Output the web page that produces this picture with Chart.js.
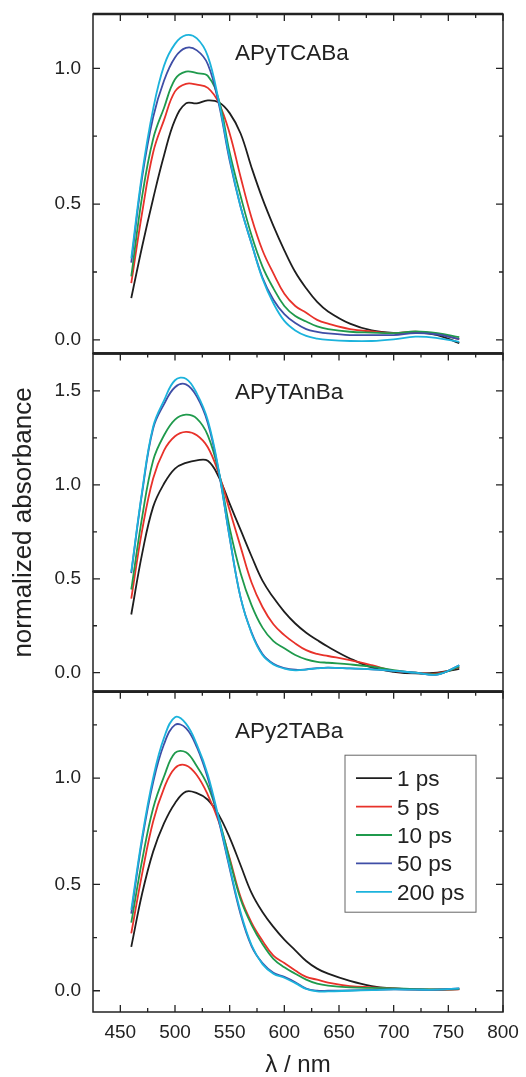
<!DOCTYPE html>
<html>
<head>
<meta charset="utf-8">
<script src="https://cdn.jsdelivr.net/npm/chart.js@4.4.0/dist/chart.umd.min.js"></script>
<style>
  html, body { margin: 0; padding: 0; background: #fff; }
  #wrap { position: relative; width: 526px; height: 1077px; overflow: hidden; }
  canvas { position: absolute; left: 0; }
</style>
</head>
<body>
<div id="wrap">
  <canvas id="c1"></canvas>
  <canvas id="c2"></canvas>
  <canvas id="c3"></canvas>
</div>
<script>
const wavelengths = [460, 470, 480, 490, 500, 510, 520, 530, 540, 550, 560, 570, 580, 590, 600, 610, 620, 630, 640, 660, 680, 700, 720, 740, 760];

const seriesLabels = ['1 ps', '5 ps', '10 ps', '50 ps', '200 ps'];
const seriesColors = ['#1e1e1e', '#e8322a', '#1f9a4c', '#3f4ea6', '#1cb3dc'];

// APyTCABa
const tcaba1ps   = [0.154, 0.345, 0.52, 0.68, 0.81, 0.871, 0.871, 0.882, 0.875, 0.835, 0.76, 0.635, 0.52, 0.42, 0.33, 0.25, 0.19, 0.14, 0.105, 0.06, 0.035, 0.026, 0.027, 0.018, -0.012];
const tcaba5ps   = [0.209, 0.47, 0.69, 0.81, 0.915, 0.943, 0.94, 0.928, 0.873, 0.76, 0.60, 0.45, 0.33, 0.245, 0.17, 0.125, 0.10, 0.074, 0.06, 0.04, 0.031, 0.025, 0.03, 0.022, 0.003];
const tcaba10ps  = [0.234, 0.53, 0.74, 0.855, 0.96, 0.988, 0.982, 0.972, 0.885, 0.69, 0.53, 0.385, 0.27, 0.19, 0.125, 0.088, 0.068, 0.05, 0.04, 0.03, 0.027, 0.025, 0.031, 0.025, 0.01];
const tcaba50ps  = [0.285, 0.60, 0.82, 0.955, 1.04, 1.075, 1.066, 1.015, 0.87, 0.66, 0.49, 0.355, 0.23, 0.148, 0.095, 0.062, 0.04, 0.03, 0.024, 0.018, 0.018, 0.018, 0.025, 0.02, 0.003];
const tcaba200ps = [0.30, 0.615, 0.85, 1.01, 1.09, 1.122, 1.11, 1.045, 0.88, 0.67, 0.49, 0.355, 0.225, 0.135, 0.07, 0.035, 0.015, 0.005, 0.0, -0.004, -0.004, 0.002, 0.012, 0.007, -0.007];

// APyTAnBa
const tanba1ps   = [0.31, 0.635, 0.883, 1.007, 1.087, 1.117, 1.131, 1.128, 1.043, 0.90, 0.76, 0.62, 0.49, 0.40, 0.324, 0.262, 0.213, 0.174, 0.138, 0.076, 0.028, 0.005, -0.004, 0.0, 0.02];
const tanba5ps   = [0.395, 0.76, 1.034, 1.184, 1.259, 1.282, 1.264, 1.2, 1.06, 0.865, 0.67, 0.48, 0.35, 0.258, 0.2, 0.156, 0.12, 0.1, 0.089, 0.067, 0.04, 0.01, 0.0, -0.004, 0.03];
const tanba10ps  = [0.443, 0.83, 1.13, 1.264, 1.347, 1.374, 1.353, 1.264, 1.07, 0.77, 0.53, 0.36, 0.24, 0.168, 0.13, 0.094, 0.071, 0.058, 0.053, 0.044, 0.032, 0.014, 0.0, -0.007, 0.032];
const tanba50ps  = [0.53, 0.96, 1.30, 1.43, 1.52, 1.535, 1.47, 1.33, 1.07, 0.72, 0.40, 0.215, 0.10, 0.048, 0.025, 0.016, 0.018, 0.024, 0.027, 0.023, 0.018, 0.01, 0.0, -0.01, 0.04];
const tanba200ps = [0.537, 0.97, 1.31, 1.45, 1.557, 1.565, 1.486, 1.344, 1.078, 0.72, 0.40, 0.21, 0.094, 0.044, 0.022, 0.013, 0.017, 0.023, 0.027, 0.023, 0.018, 0.01, 0.0, -0.01, 0.04];

// APy2TABa
const tab1ps   = [0.206, 0.458, 0.654, 0.788, 0.882, 0.936, 0.929, 0.898, 0.827, 0.72, 0.59, 0.46, 0.37, 0.30, 0.24, 0.19, 0.14, 0.104, 0.08, 0.046, 0.022, 0.011, 0.006, 0.005, 0.008];
const tab5ps   = [0.27, 0.552, 0.796, 0.953, 1.047, 1.06, 1.013, 0.921, 0.796, 0.623, 0.44, 0.32, 0.235, 0.165, 0.13, 0.095, 0.065, 0.052, 0.038, 0.022, 0.016, 0.011, 0.006, 0.005, 0.006];
const tab10ps  = [0.32, 0.615, 0.858, 1.008, 1.118, 1.121, 1.055, 0.964, 0.811, 0.615, 0.43, 0.31, 0.22, 0.15, 0.11, 0.08, 0.052, 0.033, 0.024, 0.016, 0.013, 0.011, 0.008, 0.006, 0.008];
const tab50ps  = [0.363, 0.71, 0.98, 1.16, 1.25, 1.235, 1.145, 1.0, 0.80, 0.575, 0.36, 0.21, 0.13, 0.085, 0.065, 0.04, 0.01, 0.0, 0.0, 0.002, 0.004, 0.006, 0.005, 0.005, 0.011];
const tab200ps = [0.38, 0.725, 1.0, 1.19, 1.286, 1.256, 1.157, 1.016, 0.811, 0.583, 0.37, 0.215, 0.125, 0.08, 0.061, 0.036, 0.008, -0.003, -0.003, 0.0, 0.003, 0.006, 0.005, 0.005, 0.011];

// axis ticks
const xMajorTicks = [450, 500, 550, 600, 650, 700, 750, 800];
const xMinorTicks = [475, 525, 575, 625, 675, 725, 775];
const yMajorTicks1 = [0, 0.5, 1.0];
const yMinorTicks1 = [0.25, 0.75];
const yMajorTicks2 = [0, 0.5, 1.0, 1.5];
const yMinorTicks2 = [0.25, 0.75, 1.25];
const yMajorTicks3 = [0, 0.5, 1.0];
const yMinorTicks3 = [0.25, 0.75, 1.25];

const FONT = '"Liberation Sans", Arial, Helvetica, sans-serif';
const INK = '#222';

const panels = [
    { id: 'c1', top: 0,   height: 360, padTop: 14,   padBottom: 6.5, yMin: -0.05, yMax: 1.2,
      yMajor: yMajorTicks1, yMinor: yMinorTicks1, label: 'APyTCABa',
      values: [tcaba1ps, tcaba5ps, tcaba10ps, tcaba50ps, tcaba200ps] },
    { id: 'c2', top: 340, height: 360, padTop: 13.4, padBottom: 8.5, yMin: -0.1, yMax: 1.7,
      yMajor: yMajorTicks2, yMinor: yMinorTicks2, label: 'APyTAnBa', yTitle: true,
      values: [tanba1ps, tanba5ps, tanba10ps, tanba50ps, tanba200ps] },
    { id: 'c3', top: 680, height: 410, padTop: 11.7, padBottom: 0,   yMin: -0.1, yMax: 1.406,
      yMajor: yMajorTicks3, yMinor: yMinorTicks3, label: 'APy2TABa', showX: true, legend: true,
      values: [tab1ps, tab5ps, tab10ps, tab50ps, tab200ps] }
];

// frame, inward ticks, panel name and legend
function makeFramePlugin(panel) {
    return {
        id: 'frame',
        afterDatasetsDraw(chart) {
            const { ctx, chartArea: a, scales: { x, y } } = chart;
            ctx.save();
            ctx.strokeStyle = INK;
            ctx.lineWidth = 1.5;
            ctx.strokeRect(a.left, a.top, a.right - a.left, a.bottom - a.top);
            // thicker separator between stacked panels
            ctx.lineWidth = 2.4;
            ctx.beginPath();
            ctx.moveTo(a.left, a.top);
            ctx.lineTo(a.right, a.top);
            if (!panel.showX) {
                ctx.moveTo(a.left, a.bottom);
                ctx.lineTo(a.right, a.bottom);
            }
            ctx.stroke();

            ctx.lineWidth = 1.3;
            ctx.beginPath();
            const yTick = (v, len) => {
                const py = y.getPixelForValue(v);
                ctx.moveTo(a.left, py); ctx.lineTo(a.left + len, py);
                ctx.moveTo(a.right, py); ctx.lineTo(a.right - len, py);
            };
            const xTick = (v, len) => {
                const px = x.getPixelForValue(v);
                ctx.moveTo(px, a.top); ctx.lineTo(px, a.top + len);
                if (panel.showX) { ctx.moveTo(px, a.bottom); ctx.lineTo(px, a.bottom - len); }
            };
            panel.yMajor.forEach(v => yTick(v, 7));
            panel.yMinor.forEach(v => yTick(v, 4));
            xMajorTicks.forEach(v => xTick(v, 7));
            xMinorTicks.forEach(v => xTick(v, 4));
            ctx.stroke();

            ctx.fillStyle = INK;
            ctx.font = '22.5px ' + FONT;
            ctx.textBaseline = 'alphabetic';
            ctx.textAlign = 'left';
            ctx.fillText(panel.label, a.left + 142, a.top + 46);

            if (panel.legend) {
                const bx = a.left + 252, by = a.top + 63.5, bw = 131, bh = 157;
                ctx.strokeStyle = '#666';
                ctx.lineWidth = 1;
                ctx.strokeRect(bx, by, bw, bh);
                ctx.font = '22.5px ' + FONT;
                chart.data.datasets.forEach((ds, i) => {
                    const ly = by + 23 + i * 28.4;
                    ctx.strokeStyle = ds.borderColor;
                    ctx.lineWidth = 1.8;
                    ctx.beginPath();
                    ctx.moveTo(bx + 11, ly);
                    ctx.lineTo(bx + 47, ly);
                    ctx.stroke();
                    ctx.fillStyle = INK;
                    ctx.fillText(ds.label, bx + 52, ly + 8);
                });
            }
            ctx.restore();
        }
    };
}

// keep the plot box where the layout padding puts it
function noLabelPadding(s) {
    s.paddingTop = 0;
    s.paddingBottom = 0;
    s.paddingLeft = 0;
    s.paddingRight = 0;
}

function renderPanel(panel) {
    const canvas = document.getElementById(panel.id);
    canvas.width = 526;
    canvas.height = panel.height;
    canvas.style.top = panel.top + 'px';

    const datasets = panel.values.map((vals, i) => ({
        label: seriesLabels[i],
        data: wavelengths.map((w, k) => ({ x: w, y: vals[k] })),
        borderColor: seriesColors[i],
        borderWidth: 1.8,
        pointRadius: 0,
        tension: 0.4,
        fill: false,
        order: seriesLabels.length - i   // 200 ps on top
    }));

    new Chart(canvas.getContext('2d'), {
        type: 'line',
        data: { datasets },
        options: {
            responsive: false,
            animation: false,
            events: [],
            layout: {
                autoPadding: false,
                padding: { left: 0, right: 23, top: panel.padTop, bottom: panel.padBottom }
            },
            plugins: { legend: { display: false }, tooltip: { enabled: false } },
            scales: {
                x: {
                    type: 'linear',
                    min: 425,
                    max: 800,
                    display: !!panel.showX,
                    afterBuildTicks: s => { s.ticks = xMajorTicks.map(v => ({ value: v })); },
                    afterFit: s => {
                        noLabelPadding(s);
                        if (panel.showX) s.height = panel.height - 332;
                    },
                    grid: { display: false, drawTicks: false },
                    border: { display: false },
                    ticks: { padding: 9, color: INK, font: { family: FONT, size: 19 }, maxRotation: 0 },
                    title: { display: true, text: 'λ / nm', color: INK, font: { family: FONT, size: 24 }, padding: { top: 0, bottom: 10 } }
                },
                y: {
                    type: 'linear',
                    min: panel.yMin,
                    max: panel.yMax,
                    afterBuildTicks: s => { s.ticks = panel.yMajor.map(v => ({ value: v })); },
                    afterFit: s => {
                        noLabelPadding(s);
                        s.width = 93;
                    },
                    grid: { display: false, drawTicks: false },
                    border: { display: false },
                    ticks: { padding: 12, color: INK, font: { family: FONT, size: 19 }, callback: v => v.toFixed(1) },
                    title: { display: !!panel.yTitle, text: 'normalized absorbance', color: INK, font: { family: FONT, size: 26 }, padding: { top: 8, bottom: 0 } }
                }
            }
        },
        plugins: [makeFramePlugin(panel)]
    });
}

document.addEventListener('DOMContentLoaded', () => {
    panels.forEach(renderPanel);
});
</script>
</body>
</html>
